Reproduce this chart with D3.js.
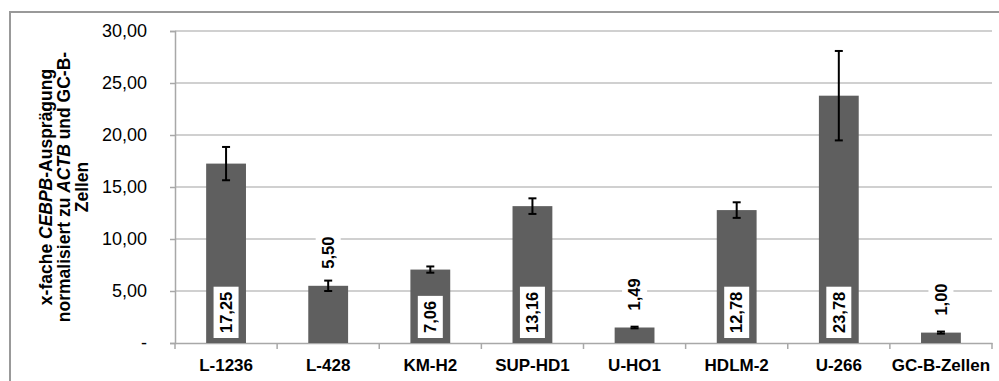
<!DOCTYPE html>
<html>
<head>
<meta charset="utf-8">
<script src="https://cdn.jsdelivr.net/npm/d3@7"></script>
<style>
  body { margin: 0; background: #fff; }
  svg { display: block; font-family: Arial, "Liberation Sans", sans-serif; }
</style>
</head>
<body>
<div class="graph"></div>
<script>
// Data
const cellLines = ['L-1236', 'L-428', 'KM-H2', 'SUP-HD1', 'U-HO1', 'HDLM-2', 'U-266', 'GC-B-Zellen'];
const foldValues = [17.25, 5.50, 7.06, 13.16, 1.49, 12.78, 23.78, 1.00];
const errValues = [1.6, 0.5, 0.3, 0.75, 0.08, 0.75, 4.3, 0.1];
const yTicks = [0, 5, 10, 15, 20, 25, 30];

const width = 999;
const height = 381;
const margin = { top: 31, right: 7, bottom: 38, left: 175 };

const svg = d3.select('.graph')
  .append('svg')
  .attr('width', width)
  .attr('height', height);

// outer frame of the chart
svg.append('rect')
  .attr('x', 10)
  .attr('y', 12)
  .attr('width', width + 10)
  .attr('height', height + 10)
  .attr('fill', 'none')
  .attr('stroke', '#999')
  .attr('stroke-width', 2);

const x = d3.scaleBand()
  .domain(cellLines)
  .range([margin.left, width - margin.right])
  .paddingInner(0.61)
  .paddingOuter(0.305);

const xOuter = d3.scaleBand()
  .domain(cellLines)
  .range([margin.left, width - margin.right]);

const y = d3.scaleLinear()
  .domain([0, 30])
  .range([height - margin.bottom, margin.top]);

const fmt = v => v.toFixed(2).replace('.', ',');

// gridlines
svg.append('g')
  .selectAll('line')
  .data(yTicks.slice(1))
  .enter()
  .append('line')
  .attr('x1', margin.left)
  .attr('x2', width - margin.right)
  .attr('y1', d => y(d))
  .attr('y2', d => y(d))
  .attr('stroke', '#c0c0c0')
  .attr('stroke-width', 1.5);

// y axis
const yAxis = svg.append('g')
  .attr('transform', `translate(${margin.left},0)`)
  .call(d3.axisLeft(y).tickValues(yTicks).tickSize(5).tickPadding(23)
    .tickFormat(d => d === 0 ? '-' : fmt(d)));
yAxis.select('.domain').attr('stroke', '#a8a8a8').attr('stroke-width', 1.5);
yAxis.selectAll('.tick line').attr('stroke', '#a8a8a8').attr('stroke-width', 1.5);
yAxis.selectAll('.tick text')
  .attr('font-size', '18px')
  .attr('font-family', 'Arial, "Liberation Sans", sans-serif')
  .attr('fill', '#000');

// x axis
const xAxis = svg.append('g')
  .attr('transform', `translate(0,${y(0)})`)
  .call(d3.axisBottom(xOuter).tickSize(0).tickPadding(16));
xAxis.select('.domain').attr('stroke', '#a8a8a8').attr('stroke-width', 1.5);
xAxis.selectAll('.tick text')
  .attr('font-size', '17px')
  .attr('font-weight', 'bold')
  .attr('font-family', 'Arial, "Liberation Sans", sans-serif')
  .attr('fill', '#000');

// category separators below the axis
const bounds = cellLines.map(d => xOuter(d)).concat([xOuter.range()[1]]);
svg.append('g')
  .selectAll('line')
  .data(bounds)
  .enter()
  .append('line')
  .attr('x1', d => d)
  .attr('x2', d => d)
  .attr('y1', y(0))
  .attr('y2', y(0) + 6)
  .attr('stroke', '#a8a8a8')
  .attr('stroke-width', 1.5);

// bars
const rows = cellLines.map((c, i) => ({ name: c, value: foldValues[i], err: errValues[i] }));

svg.append('g')
  .selectAll('rect')
  .data(rows)
  .enter()
  .append('rect')
  .attr('x', d => x(d.name))
  .attr('y', d => y(d.value))
  .attr('width', x.bandwidth())
  .attr('height', d => y(0) - y(d.value))
  .attr('fill', '#5f5f5f');

// error bars
const err = svg.append('g')
  .attr('stroke', '#000')
  .attr('stroke-width', 2);
rows.forEach(d => {
  const cx = x(d.name) + x.bandwidth() / 2;
  err.append('line')
    .attr('x1', cx).attr('x2', cx)
    .attr('y1', y(d.value + d.err)).attr('y2', y(d.value - d.err));
  [d.value + d.err, d.value - d.err].forEach(v => {
    err.append('line')
      .attr('x1', cx - 4).attr('x2', cx + 4)
      .attr('y1', y(v)).attr('y2', y(v));
  });
});

// value labels (inside tall bars, above short ones)
const labels = svg.append('g');
rows.forEach(d => {
  const cx = x(d.name) + x.bandwidth() / 2;
  const inside = d.value > 6;
  const startY = inside ? y(0) - 10 : y(d.value) - 17;
  const g = labels.append('g')
    .attr('transform', `translate(${cx},${startY}) rotate(-90)`);
  const t = g.append('text')
    .attr('x', 0)
    .attr('y', 0)
    .attr('dy', '0.35em')
    .attr('font-size', '16.5px')
    .attr('font-weight', 'bold')
    .attr('fill', '#000')
    .text(fmt(d.value));
  const len = t.node().getComputedTextLength();
  g.insert('rect', 'text')
    .attr('x', -5)
    .attr('y', -12.5)
    .attr('width', len + 10)
    .attr('height', 25)
    .attr('fill', '#fff');
});

// y axis title
const title = svg.append('text')
  .attr('transform', `translate(0,${(y(0) + y(30)) / 2}) rotate(-90)`)
  .attr('text-anchor', 'middle')
  .attr('font-size', '17.5px')
  .attr('font-weight', 'bold')
  .attr('fill', '#000');

const titleLines = [
  [['x-fache ', false], ['CEBPB', true], ['-Ausprägung', false]],
  [['normalisiert zu ', false], ['ACTB', true], [' und GC-B-', false]],
  [['Zellen', false]]
];
const lineX = [52, 70, 88];
titleLines.forEach((parts, i) => {
  parts.forEach((p, j) => {
    const ts = title.append('tspan')
      .attr('font-style', p[1] ? 'italic' : 'normal')
      .text(p[0]);
    if (j === 0) ts.attr('x', 0).attr('y', lineX[i]);
  });
});
</script>
</body>
</html>
